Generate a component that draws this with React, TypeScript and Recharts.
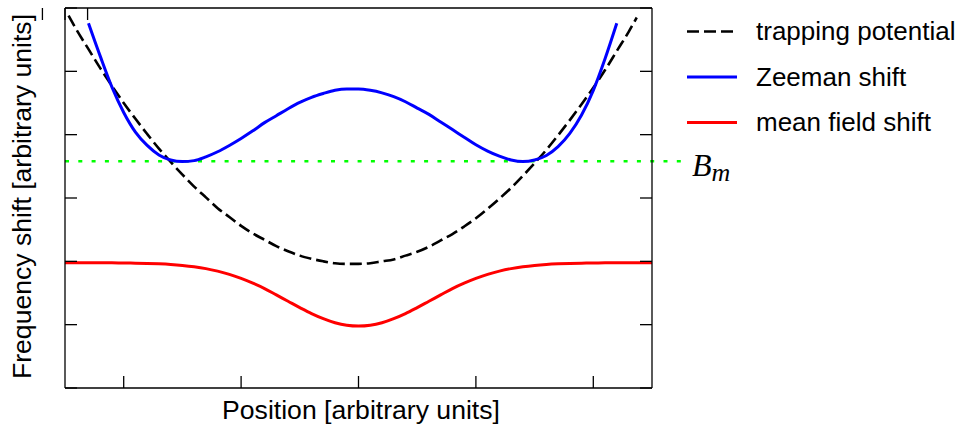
import React from 'react';
import { LineChart, Line, XAxis, YAxis, ReferenceLine, Customized } from 'recharts';

// ---- data ----
const positions = [
  -2.5, -2.47, -2.4, -2.3, -2.2, -2.1, -2.0, -1.9, -1.8, -1.7, -1.6, -1.5, -1.4, -1.3, -1.2, -1.1,
  -1.0, -0.9, -0.8, -0.7, -0.6, -0.5, -0.4, -0.3, -0.2, -0.1, 0, 0.1, 0.2, 0.3, 0.4, 0.5, 0.6, 0.7,
  0.8, 0.9, 1.0, 1.1, 1.2, 1.3, 1.4, 1.5, 1.6, 1.7, 1.8, 1.9, 2.0, 2.1, 2.2, 2.3, 2.37, 2.4, 2.5,
];

const trappingPotential = [
  null, 5.88, 5.65,
  5.35, 5.05, 4.77, 4.5, 4.25, 4.01, 3.78, 3.57, 3.37, 3.18, 3.01, 2.84, 2.7, 2.56, 2.44, 2.34,
  2.24, 2.16, 2.09, 2.04, 2.0, 1.97, 1.96, 1.96, 1.97, 2.0, 2.03, 2.09, 2.15, 2.23, 2.33, 2.43,
  2.55, 2.68, 2.83, 2.99, 3.16, 3.35, 3.55, 3.76, 3.99, 4.23, 4.48, 4.74, 5.02, 5.32, 5.62,
  5.85, null, null,
];

const zeemanShift = [
  null, null, null,
  5.76, 5.24, 4.75, 4.35, 4.04, 3.83, 3.68, 3.6, 3.575, 3.59, 3.65, 3.73, 3.83, 3.94, 4.06, 4.19,
  4.3, 4.41, 4.51, 4.59, 4.65, 4.7, 4.72, 4.72, 4.7, 4.66, 4.6, 4.52, 4.42, 4.32, 4.2, 4.08,
  3.96, 3.84, 3.74, 3.66, 3.6, 3.575, 3.6, 3.67, 3.81, 4.02, 4.31, 4.7, 5.2, 5.76, null,
  null, null, null,
];

const meanFieldShift = [
  1.977, 1.977, 1.977,
  1.977, 1.977, 1.976, 1.974, 1.971, 1.967, 1.96, 1.95, 1.935, 1.914, 1.885, 1.845, 1.795, 1.73,
  1.655, 1.57, 1.47, 1.37, 1.27, 1.175, 1.095, 1.03, 0.99, 0.977, 0.99, 1.03, 1.095, 1.175, 1.27,
  1.37, 1.47, 1.57, 1.655, 1.73, 1.795, 1.845, 1.885, 1.914, 1.935, 1.95, 1.96, 1.967, 1.971,
  1.974, 1.976, 1.977, 1.977,
  1.977, 1.977, 1.977,
];

const seriesNames = ['trapping potential', 'Zeeman shift', 'mean field shift'];
const xTicks = [-2, -1, 0, 1, 2];
const yTicks = [0, 1, 2, 3, 4, 5, 6];
const xDomain = [-2.5, 2.5];
const yDomain = [0, 6];
const bmLevel = 3.58;
const bmLineEnd = 2.755;
const xLabel = 'Position [arbitrary units]';
const yLabel = 'Frequency shift [arbitrary units]';

const data = positions.map((x, i) => ({
  x,
  trap: trappingPotential[i],
  zeeman: zeemanShift[i],
  mean: meanFieldShift[i],
}));

const SANS = "'Liberation Sans', Arial, Helvetica, sans-serif";
const SERIF = "'Liberation Serif', 'DejaVu Serif', serif";

const SERIES = [
  { key: 'trap', name: seriesNames[0], color: '#000000', width: 2.6, dash: '12 5' },
  { key: 'zeeman', name: seriesNames[1], color: '#0000ff', width: 3, dash: undefined },
  { key: 'mean', name: seriesNames[2], color: '#ff0000', width: 3, dash: undefined },
];

const Overlay = () => (
  <g>
    <text x={361} y={419} textAnchor="middle" fontFamily={SANS} fontSize={26.6} fill="#000">
      {xLabel}
    </text>
    <text
      transform="translate(30.5,196.5) rotate(-90)"
      textAnchor="middle"
      fontFamily={SANS}
      fontSize={26.6}
      fill="#000"
    >
      {yLabel}
    </text>
    {SERIES.map((s, i) => {
      const y = 31.5 + i * 45.5;
      return (
        <g key={s.key}>
          <line
            x1={687}
            x2={737}
            y1={y}
            y2={y}
            stroke={s.color}
            strokeWidth={s.width}
            strokeDasharray={s.dash}
          />
          <text x={756} y={y + 8.5} fontFamily={SANS} fontSize={26} fill="#000">
            {s.name}
          </text>
        </g>
      );
    })}
  </g>
);

const BmLabel = (props: any) => {
  const vb = props.viewBox || { x: 0, y: 0, width: 0 };
  const x = vb.x + vb.width + 10;
  const y = vb.y + 15;
  return (
    <text x={x} y={y} fontFamily={SERIF} fontStyle="italic" fill="#000">
      <tspan fontSize={32}>B</tspan>
      <tspan fontSize={26} dy={5}>
        m
      </tspan>
    </text>
  );
};

const EmptyTick = () => <g />;

const AXIS_SIZE = 0.01;

const axisCommon = {
  type: 'number' as const,
  allowDataOverflow: true,
  mirror: true,
  tickSize: 12,
  tick: EmptyTick,
  tickLine: { stroke: '#000', strokeWidth: 1.3 },
  axisLine: { stroke: '#000', strokeWidth: 1.3 },
  stroke: '#000',
};

export default function App() {
  return (
    <div style={{ position: 'absolute', left: 0, top: 0, width: 961, height: 430, background: '#fff' }}>
      <LineChart
        width={961}
        height={430}
        data={data}
        margin={{ top: 8, right: 309, bottom: 42, left: 65 }}
      >
        <XAxis
          {...axisCommon}
          xAxisId="b"
          dataKey="x"
          orientation="bottom"
          domain={xDomain}
          ticks={xTicks}
          height={AXIS_SIZE}
        />
        <XAxis
          {...axisCommon}
          xAxisId="t"
          orientation="top"
          domain={xDomain}
          ticks={xTicks}
          height={AXIS_SIZE}
        />
        <YAxis
          {...axisCommon}
          yAxisId="l"
          orientation="left"
          domain={yDomain}
          ticks={yTicks}
          width={AXIS_SIZE}
        />
        <YAxis
          {...axisCommon}
          yAxisId="r"
          orientation="right"
          domain={yDomain}
          ticks={yTicks}
          width={AXIS_SIZE}
        />
        <ReferenceLine
          xAxisId="b"
          yAxisId="l"
          segment={[
            { x: xDomain[0], y: bmLevel },
            { x: bmLineEnd, y: bmLevel },
          ]}
          ifOverflow="visible"
          stroke="#00ff00"
          strokeWidth={2.5}
          strokeDasharray="4 9.3"
          label={BmLabel}
        />
        {SERIES.map((s) => (
          <Line
            key={s.key}
            xAxisId="b"
            yAxisId="l"
            dataKey={s.key}
            name={s.name}
            type="monotone"
            stroke={s.color}
            strokeWidth={s.width}
            strokeDasharray={s.dash}
            dot={false}
            activeDot={false}
            connectNulls={false}
            isAnimationActive={false}
          />
        ))}
        <Customized component={Overlay} />
      </LineChart>
    </div>
  );
}
